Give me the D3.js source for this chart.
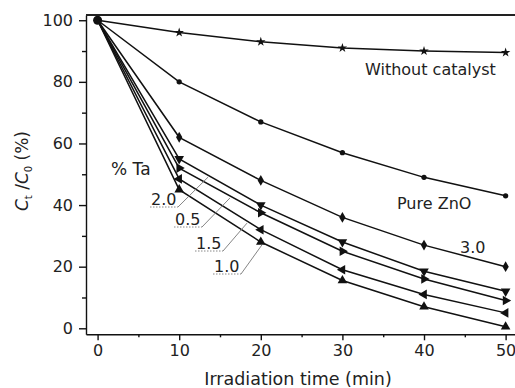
<!DOCTYPE html>
<html>
<head>
<meta charset="utf-8">
<script src="https://cdn.jsdelivr.net/npm/d3@7"></script>
<style>
  body { margin: 0; background: #fff; }
  svg { font-family: "DejaVu Sans", sans-serif; }
</style>
</head>
<body>
<div id="chart"></div>
<script>
// datos
const times = [0, 10, 20, 30, 40, 50];
const withoutCatalyst = [100, 96, 93, 91, 90, 89.5];
const pureZnO = [100, 80, 67, 57, 49, 43];
const ta30 = [100, 62, 48, 36, 27, 20];
const ta20 = [100, 55, 40, 28, 18.5, 12];
const ta05 = [100, 52, 37.5, 25, 16, 9];
const ta15 = [100, 48.5, 32, 19, 11, 5];
const ta10 = [100, 45, 28, 15.5, 7, 0.5];
const xTicks = [0, 10, 20, 30, 40, 50];
const yTicks = [0, 20, 40, 60, 80, 100];

const width = 515;
const height = 388;
const fontFam = '"DejaVu Sans", sans-serif';

const svg = d3.select('#chart').append('svg')
  .attr('width', width)
  .attr('height', height);

const x = d3.scaleLinear().domain([-1.42, 51.15]).range([86, 515]);
const y = d3.scaleLinear().domain([-1.95, 101.7]).range([334.3, 15]);

// ejes
svg.append('g')
  .attr('transform', 'translate(86,0)')
  .call(d3.axisLeft(y).tickValues(yTicks).tickSize(7).tickPadding(6).tickSizeOuter(0));
svg.append('g')
  .attr('transform', 'translate(86,0)')
  .call(d3.axisLeft(y).tickValues([10, 30, 50, 70, 90]).tickSize(4).tickFormat('').tickSizeOuter(0))
  .select('.domain').remove();

svg.append('g')
  .attr('transform', 'translate(0,334.3)')
  .call(d3.axisBottom(x).tickValues(xTicks).tickSize(6).tickPadding(4).tickSizeOuter(0));
svg.append('g')
  .attr('transform', 'translate(0,334.3)')
  .call(d3.axisBottom(x).tickValues([5, 15, 25, 35, 45]).tickSize(3).tickFormat('').tickSizeOuter(0))
  .select('.domain').remove();

svg.selectAll('.tick text')
  .attr('font-size', 16)
  .attr('fill', '#222')
  .attr('font-family', fontFam);
svg.selectAll('.domain, .tick line').attr('stroke', '#111').attr('stroke-width', 1.4);

// linea superior del marco
svg.append('line')
  .attr('x1', 86).attr('x2', width)
  .attr('y1', 15).attr('y2', 15)
  .attr('stroke', '#222').attr('stroke-width', 2);

// series
const series = [
  { values: withoutCatalyst, symbol: d3.symbolStar, size: 28, rot: 0 },
  { values: pureZnO, symbol: d3.symbolCircle, size: 22, rot: 0 },
  { values: ta30, symbol: d3.symbolDiamond, size: 34, rot: 0 },
  { values: ta20, symbol: d3.symbolTriangle, size: 40, rot: 180 },
  { values: ta05, symbol: d3.symbolTriangle, size: 40, rot: 90 },
  { values: ta15, symbol: d3.symbolTriangle, size: 40, rot: -90 },
  { values: ta10, symbol: d3.symbolTriangle, size: 40, rot: 0 }
];

const line = d3.line()
  .x((d, i) => x(times[i]))
  .y(d => y(d));

const groupSeries = svg.append('g').attr('class', 'series');

series.forEach(s => {
  groupSeries.append('path')
    .attr('d', line(s.values))
    .attr('fill', 'none')
    .attr('stroke', '#111')
    .attr('stroke-width', 1.5);

  groupSeries.selectAll(null)
    .data(s.values.slice(1))
    .enter()
    .append('path')
    .attr('d', d3.symbol().type(s.symbol).size(s.size))
    .attr('transform', (d, i) => `translate(${x(times[i + 1])},${y(d)}) rotate(${s.rot})`)
    .attr('fill', '#111');
});

// punto inicial comun
groupSeries.append('circle')
  .attr('cx', x(times[0]))
  .attr('cy', y(100))
  .attr('r', 4.5)
  .attr('fill', '#111');

// textos
const labels = svg.append('g').attr('font-size', 16).attr('fill', '#222');
labels.append('text').attr('x', 365).attr('y', 75).text('Without catalyst');
labels.append('text').attr('x', 397).attr('y', 209).text('Pure ZnO');
labels.append('text').attr('x', 460).attr('y', 253).text('3.0');
labels.append('text').attr('x', 111).attr('y', 175).attr('font-size', 17).text('% Ta');

// etiquetas con linea guia
const taLabels = [
  { text: '2.0', x: 151, y: 205, tx: 208, serie: ta20 },
  { text: '0.5', x: 175, y: 225, tx: 230, serie: ta05 },
  { text: '1.5', x: 196, y: 249, tx: 247, serie: ta15 },
  { text: '1.0', x: 214, y: 272, tx: 262, serie: ta10 }
];

taLabels.forEach(l => {
  labels.append('text').attr('x', l.x).attr('y', l.y).text(l.text);
  const x1 = l.x + 27;
  const y1 = l.y + 2;
  // valor de la serie en tx (entre 10 y 20)
  const t = x.invert(l.tx);
  const v = l.serie[1] + (l.serie[2] - l.serie[1]) * (t - 10) / 10;
  svg.append('line')
    .attr('x1', l.x - 1).attr('x2', x1)
    .attr('y1', y1).attr('y2', y1)
    .attr('stroke', '#888').attr('stroke-width', 1)
    .attr('stroke-dasharray', '1.5,1.5');
  svg.append('line')
    .attr('x1', x1).attr('x2', l.tx)
    .attr('y1', y1).attr('y2', y(v) + 2)
    .attr('stroke', '#777').attr('stroke-width', 0.9);
});

// titulos de ejes
svg.append('text')
  .attr('x', 298).attr('y', 385)
  .attr('text-anchor', 'middle')
  .attr('font-size', 17.5)
  .attr('fill', '#222')
  .text('Irradiation time (min)');

const yLabel = svg.append('text')
  .attr('transform', 'translate(28,171) rotate(-90)')
  .attr('text-anchor', 'middle')
  .attr('font-size', 17)
  .attr('fill', '#222');
yLabel.append('tspan').attr('font-style', 'italic').text('C');
yLabel.append('tspan').attr('font-size', 10).attr('dy', 4).text('t');
yLabel.append('tspan').attr('dy', -4).text(' /');
yLabel.append('tspan').attr('font-style', 'italic').text('C');
yLabel.append('tspan').attr('font-size', 10).attr('dy', 4).text('0');
yLabel.append('tspan').attr('dy', -4).text(' (%)');
</script>
</body>
</html>
